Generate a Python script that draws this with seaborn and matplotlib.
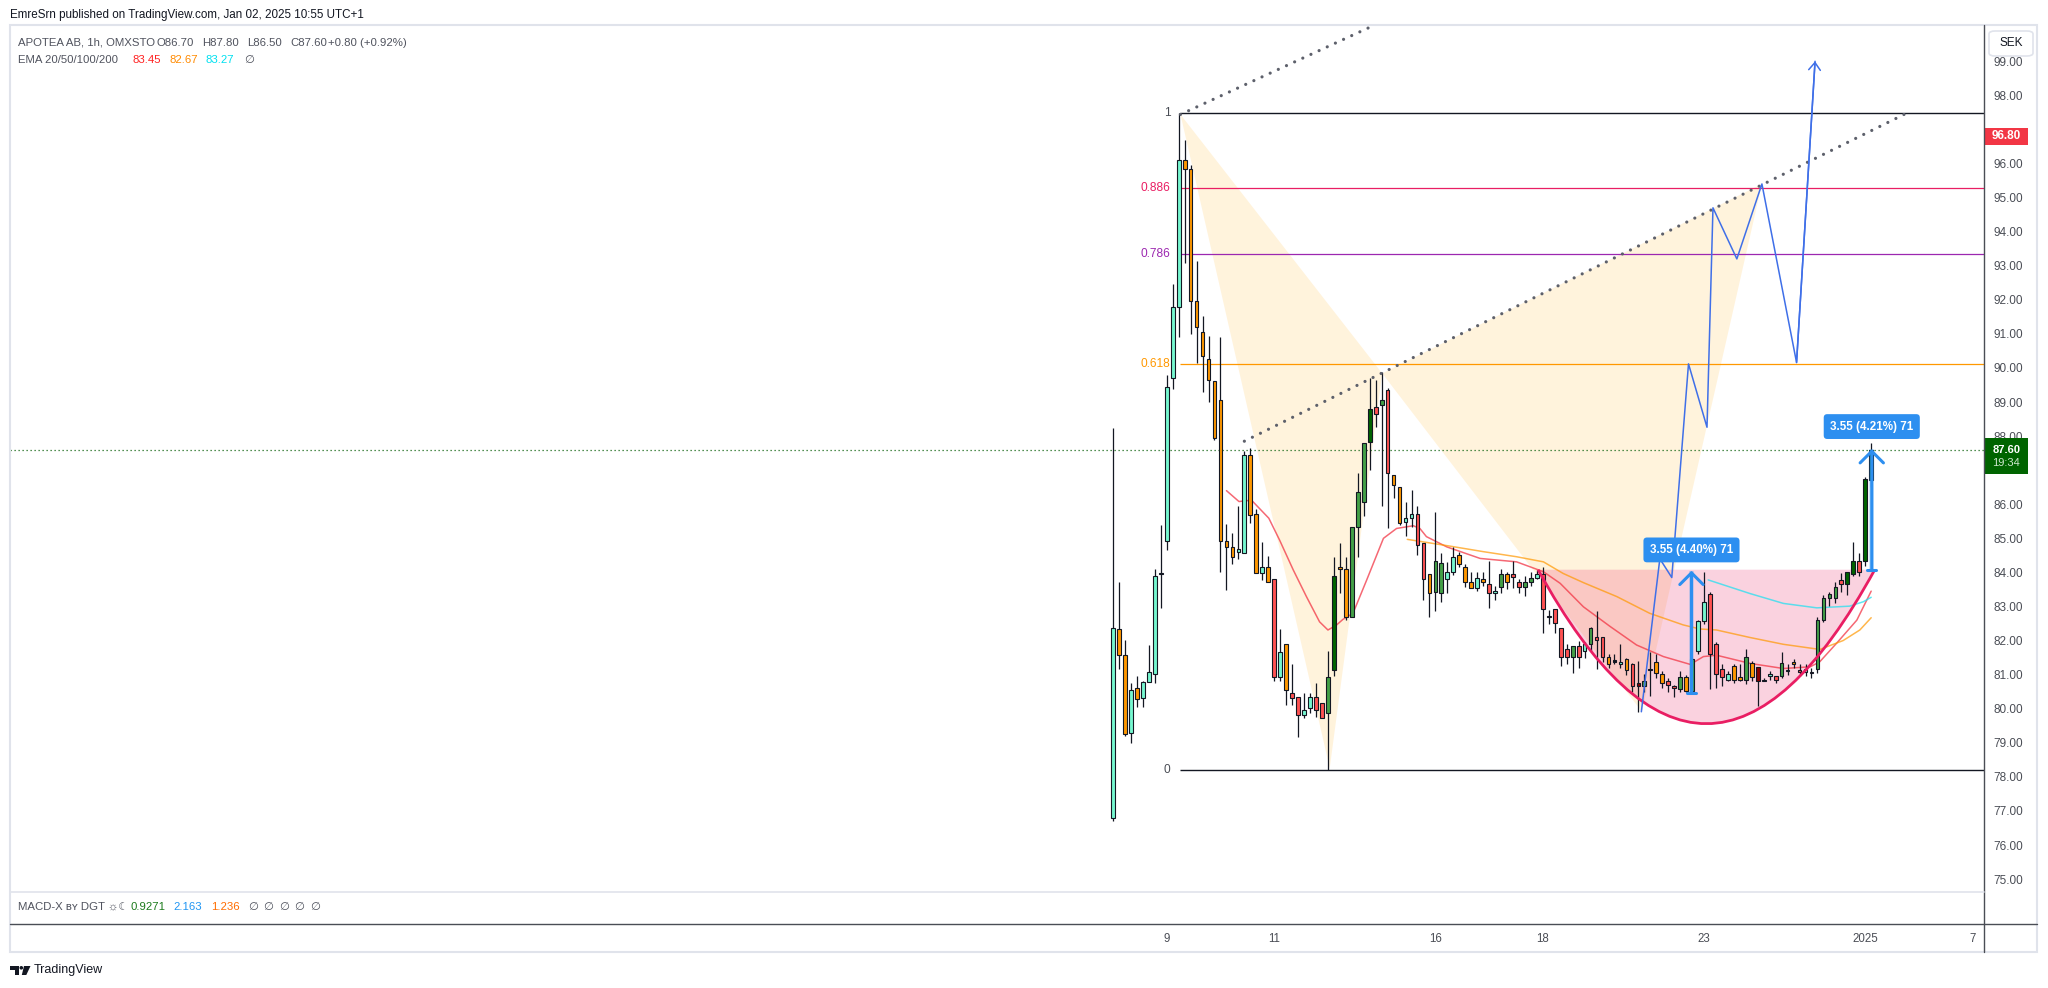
import matplotlib
matplotlib.use('Agg')
import matplotlib.pyplot as plt
import matplotlib.transforms as mtrans
from matplotlib.patches import Rectangle, PathPatch, FancyBboxPatch, Polygon, Ellipse
from matplotlib.path import Path
from matplotlib.lines import Line2D
import seaborn as sns

sns.set_theme(style='white')
plt.rcParams['font.family'] = ['Liberation Sans', 'DejaVu Sans']

# ---- daten (1h-Kerzen APOTEA, Index = Bar-Nummer ab 6. Dez 09:00) ----
opens = [
    76.80, 82.33, 81.57, 79.30, 80.60, 80.30, 80.77, 81.01, 83.94, 84.93,
    89.70, 91.78, 96.11, 95.83, 91.97, 91.05, 90.25, 89.62, 89.06, 84.93,
    84.74, 84.60, 84.56, 87.45, 85.70, 83.97, 84.15, 83.80, 80.94, 81.89,
    80.45, 80.33, 79.83, 80.01, 80.33, 80.16, 79.88, 81.15, 84.15, 84.09,
    82.68, 85.34, 86.06, 87.84, 88.84, 88.90, 89.35, 86.85, 86.50, 85.49,
    85.59, 85.70, 84.85, 83.94, 83.43, 83.39, 83.80, 84.02, 84.51, 84.15,
    83.73, 83.53, 83.80, 83.65, 83.39, 83.58, 83.94, 83.95, 83.73, 83.58,
    83.73, 83.85, 83.95, 82.72, 82.94, 82.36, 81.75, 81.51, 81.85, 81.70,
    81.89, 82.09, 82.09, 81.53, 81.42, 81.31, 81.46, 81.30, 80.74, 80.66,
    81.15, 81.36, 81.02, 80.81, 80.67, 80.59, 80.94, 80.53, 81.70, 82.58,
    83.36, 81.89, 81.18, 80.84, 81.24, 80.94, 80.84, 81.35, 81.23, 80.82,
    80.96, 80.96, 80.96, 81.10, 81.38, 81.15, 81.09, 81.09, 81.18, 82.60,
    83.24, 83.24, 83.78, 83.65, 83.95, 84.34, 84.34, 86.70]
highs = [
    88.25, 83.73, 82.03, 80.74, 80.96, 80.80, 81.87, 84.09, 85.39, 89.79,
    92.47, 97.48, 96.69, 95.96, 93.14, 91.53, 90.94, 89.62, 90.90, 85.42,
    85.15, 85.95, 87.55, 87.64, 85.85, 84.90, 84.48, 83.80, 82.35, 81.89,
    81.30, 80.33, 80.45, 80.45, 80.74, 80.16, 81.70, 84.46, 84.85, 84.46,
    85.34, 86.91, 87.79, 89.70, 89.65, 89.89, 89.40, 86.85, 86.50, 86.06,
    86.42, 85.95, 84.85, 83.94, 85.78, 84.56, 84.31, 84.76, 84.60, 84.25,
    84.00, 84.00, 84.00, 84.33, 83.60, 84.10, 84.00, 84.33, 83.80, 83.90,
    84.00, 84.07, 84.15, 82.90, 82.94, 82.36, 81.90, 81.85, 82.00, 81.95,
    82.40, 82.88, 82.09, 81.60, 81.60, 81.89, 81.50, 81.35, 81.40, 81.02,
    81.67, 81.60, 81.10, 80.90, 80.70, 81.10, 81.00, 81.50, 82.60, 84.00,
    83.43, 81.95, 81.30, 81.10, 81.30, 81.30, 81.74, 81.40, 81.23, 80.90,
    81.10, 80.96, 81.67, 81.30, 81.45, 81.30, 81.30, 81.20, 82.70, 83.33,
    83.43, 83.73, 83.97, 84.02, 84.90, 84.56, 86.80, 87.80]
lows = [
    76.70, 81.18, 79.20, 78.98, 80.06, 80.06, 80.77, 80.76, 82.97, 84.66,
    89.38, 90.92, 93.07, 91.00, 90.14, 89.29, 89.01, 87.90, 84.02, 83.48,
    84.26, 84.38, 84.56, 85.46, 83.97, 83.78, 83.73, 80.81, 80.81, 80.11,
    80.10, 79.18, 79.72, 79.86, 79.77, 79.74, 78.20, 80.96, 83.39, 82.60,
    82.68, 84.46, 85.67, 87.00, 88.28, 85.95, 85.29, 86.17, 85.39, 85.07,
    85.34, 84.51, 83.19, 82.68, 82.88, 83.14, 83.39, 83.92, 84.17, 83.58,
    83.53, 83.45, 83.60, 82.97, 83.20, 83.40, 83.50, 83.53, 83.40, 83.30,
    83.60, 83.80, 82.21, 82.50, 82.21, 81.26, 81.30, 81.04, 81.20, 81.50,
    81.70, 81.18, 81.38, 81.20, 81.30, 81.20, 81.00, 80.50, 79.91, 80.50,
    80.37, 80.90, 80.60, 80.50, 80.35, 80.50, 80.50, 80.45, 81.60, 82.50,
    80.57, 80.60, 80.66, 80.80, 80.76, 80.80, 80.72, 80.80, 80.08, 80.80,
    80.84, 80.75, 80.90, 81.00, 81.20, 80.95, 80.95, 80.90, 81.06, 82.55,
    83.00, 83.10, 83.43, 83.34, 83.90, 83.90, 84.20, 86.50]
closes = [
    82.36, 81.57, 79.26, 80.55, 80.28, 80.77, 81.07, 83.89, 83.94, 89.43,
    91.78, 96.11, 95.83, 91.97, 91.19, 90.35, 89.65, 87.94, 84.93, 84.74,
    84.44, 84.70, 87.45, 85.68, 83.97, 84.15, 83.73, 80.94, 81.65, 80.55,
    80.32, 79.81, 79.96, 80.33, 79.96, 79.74, 80.94, 83.89, 84.09, 82.68,
    85.34, 86.35, 87.79, 88.79, 88.64, 89.05, 86.91, 86.56, 85.44, 85.59,
    85.71, 84.80, 83.80, 83.39, 84.34, 84.28, 84.02, 84.44, 84.25, 83.73,
    83.53, 83.85, 83.73, 83.39, 83.45, 83.94, 83.73, 83.87, 83.58, 83.73,
    83.85, 83.95, 82.94, 82.68, 82.52, 81.51, 81.51, 81.85, 81.51, 81.89,
    82.36, 82.03, 81.51, 81.31, 81.38, 81.36, 81.15, 80.67, 80.66, 80.82,
    81.14, 81.04, 80.74, 80.69, 80.61, 80.94, 80.53, 81.45, 82.58, 83.14,
    81.60, 81.01, 80.94, 81.01, 80.84, 80.84, 81.51, 80.94, 80.81, 80.82,
    81.02, 80.84, 81.35, 81.15, 81.30, 81.09, 81.18, 81.04, 82.60, 83.24,
    83.36, 83.58, 83.65, 84.00, 84.34, 84.00, 86.73, 87.60]
# Kerzenfarbe (MACD-X): A aqua, G gruen, D dunkelgruen, O orange, R rot, K dunkelrot, N doji
candle_kind = ('AOOAOAAANA' 'AAOOOOOOOO' 'OAAOOAORAO' 'RRAARRGDOO' 'GGGDRGROOA'
               'ARROGGAAOO' 'OAORAGORRG' 'GARRRRRGRA' 'GRRONAORKG' 'NOORRGOGAA'
               'RRRAOOGOKN' 'ARGAORARGG' 'GGRDDRDD')

ema20_x = [19, 21.1, 23.2, 26.1, 27.9, 30.2, 32.4, 34.6, 36, 37.4, 38.5, 40.2, 42.5, 45.3,
           47.5, 50.3, 51.4, 52.5, 55.9, 61.5, 67.6, 72.1, 74.9, 78.8, 83.3, 87.7, 92.2,
           96.7, 98.9, 101.1, 106.7, 112.3, 116.8, 118.4, 121.2, 124.6, 127]
ema20_y = [86.40, 86.08, 86.12, 85.59, 84.95, 84.07, 83.29, 82.55, 82.31, 82.45, 82.62, 82.80,
           83.78, 85.00, 85.29, 85.37, 85.29, 85.05, 84.75, 84.41, 84.31, 84.02, 83.68, 82.99,
           82.41, 81.87, 81.53, 81.30, 81.53, 81.57, 81.33, 81.18, 81.23, 81.38, 81.92, 82.60,
           83.45]
ema50_x = [49.3, 56.5, 62, 67.6, 72.1, 75.4, 78.8, 84.4, 89.9, 95.5, 98.3, 101.1, 106.7,
           112.3, 118.4, 122.3, 125.1, 127]
ema50_y = [84.97, 84.77, 84.61, 84.46, 84.31, 83.97, 83.70, 83.29, 82.80, 82.46, 82.34, 82.31,
           82.09, 81.89, 81.74, 82.00, 82.31, 82.67]
ema100_x = [99.7, 106.7, 112.3, 117.9, 123.4, 125.7, 127]
ema100_y = [83.78, 83.38, 83.09, 82.96, 83.01, 83.14, 83.27]

fib_levels = [0, 0.618, 0.786, 0.886, 1]
fib_labels = ['0', '0.618', '0.786', '0.886', '1']
fib_colors = ['#131722', '#ff9800', '#9c27b0', '#e91e63', '#131722']
fib_start, fib_low, fib_high = 11.3, 78.20, 97.48

# XABCD Muster
pat_x = [11.3, 36.3, 45.1, 88.6, 108.7]
pat_y = [97.44, 78.25, 89.84, 79.91, 95.40]

# Cup (Bogen) links / Boden / rechts
cup_x = [71.2, 99.4, 127.6]
cup_y = [84.08, 79.56, 84.08]

# Projektion (blauer Pfad)
zz_x = [88.5, 91.6, 93.6, 96.4, 99.5, 100.5, 104.5, 108.7, 114.5, 117.6]
zz_y = [79.91, 84.40, 83.85, 90.12, 88.26, 94.70, 93.20, 95.40, 90.16, 99.00]

trend1 = ([11.3, 47.0], [97.44, 100.32])
trend2 = ([22.0, 133.2], [87.85, 97.50])

range_x = [96.9, 127.1]
range_lo = [80.47, 84.07]
range_hi = [84.05, 87.62]
range_label_y = [84.66, 88.28]
range_text = ['3.55 (4.40%) 71', '3.55 (4.21%) 71']

last_price = 87.60
alert_price = 96.80
price_ticks = list(range(75, 100))
time_ticks = [9, 27, 54, 72, 99, 126, 144]
time_labels = ['9', '11', '16', '18', '23', '2025', '7']

W, H = 2048, 988
fig = plt.figure(figsize=(W / 100, H / 100), dpi=100)
fig.patch.set_facecolor('white')


def rect(x0, y0, x1, y1):
    return [x0 / W, 1 - y1 / H, (x1 - x0) / W, (y1 - y0) / H]


PANE_L, PANE_R, PANE_T, PANE_B, MACD_B, FRAME_B, FRAME_R = 10.4, 1984, 25.5, 891.7, 924.3, 952, 2037
ax = fig.add_axes(rect(PANE_L, PANE_T, PANE_R, PANE_B))
axm = fig.add_axes(rect(PANE_L, PANE_B, PANE_R, MACD_B), sharex=ax)
ax.set_xlim(-184.7, 145.9)
ax.set_ylim(74.63, 100.05)
for a in (ax, axm):
    a.set_facecolor('white')
    for s in a.spines.values():
        s.set_visible(False)
    a.grid(False)

# Preisskala rechts (87 und 97 liegen unter den Preis-Labels)
ax.yaxis.tick_right()
ax.set_yticks(price_ticks)
ax.set_yticklabels(['' if p in (87, 97) else f'{p:.2f}' for p in price_ticks])
ax.tick_params(axis='y', length=0, pad=6.5, labelsize=8.5, labelcolor='#4a4d55')
ax.tick_params(axis='x', bottom=False, labelbottom=False)
axm.set_yticks([])
axm.set_xticks(time_ticks)
axm.set_xticklabels(time_labels)
axm.tick_params(axis='x', length=0, pad=6, labelsize=8.3, labelcolor='#4a4d55')

# Muster-Dreiecke XAB und BCD
ax.fill([pat_x[0], pat_x[1], pat_x[2]], [pat_y[0], pat_y[1], pat_y[2]],
        color='#ffbe40', alpha=0.18, lw=0, zorder=1)
ax.fill([pat_x[2], pat_x[3], pat_x[4]], [pat_y[2], pat_y[3], pat_y[4]],
        color='#ffbe40', alpha=0.18, lw=0, zorder=1)

# Cup
ctrl = (cup_x[1], 2 * cup_y[1] - (cup_y[0] + cup_y[2]) / 2)
cup_path = Path([(cup_x[0], cup_y[0]), ctrl, (cup_x[2], cup_y[2]), (cup_x[0], cup_y[0])],
                [Path.MOVETO, Path.CURVE3, Path.CURVE3, Path.LINETO])
ax.add_patch(PathPatch(cup_path, fc='#e91e63', alpha=0.2, lw=0, zorder=1.1))
arc_path = Path([(cup_x[0], cup_y[0]), ctrl, (cup_x[2], cup_y[2])],
                [Path.MOVETO, Path.CURVE3, Path.CURVE3])
ax.add_patch(PathPatch(arc_path, fc='none', ec='#e91e63', lw=2.0, zorder=3.5))

# Fibonacci
for lev, lab, col in zip(fib_levels, fib_labels, fib_colors):
    price = fib_low + lev * (fib_high - fib_low)
    ax.hlines(price, fib_start, 145.9, color=col, lw=1.0 if lev in (0, 1) else 0.9, zorder=1.5)
    ax.text(9.6, price, lab, ha='right', va='center', fontsize=8.6,
            color='#4a4d55' if lev in (0, 1) else col, zorder=6)

ax.axhline(last_price, color='#1b6b1b', lw=0.9, ls=(0, (1, 2.2)), zorder=1.6)

# EMAs
sns.lineplot(x=ema20_x, y=ema20_y, ax=ax, color='#f23645', lw=1.1, alpha=0.75, sort=False, zorder=2)
sns.lineplot(x=ema50_x, y=ema50_y, ax=ax, color='#ff9800', lw=1.1, alpha=0.7, sort=False, zorder=2)
sns.lineplot(x=ema100_x, y=ema100_y, ax=ax, color='#26e0f0', lw=1.1, alpha=0.75, sort=False, zorder=2)

# Kerzen
kind_color = {'A': '#76f7cf', 'G': '#43a047', 'D': '#006400', 'O': '#ff9800',
              'R': '#ff5252', 'K': '#8b0000', 'N': '#131722'}
idx = list(range(len(opens)))
ax.vlines(idx, lows, highs, color='#131722', lw=0.9, zorder=3)
bottoms = [min(o, c) for o, c in zip(opens, closes)]
heights = [max(abs(c - o), 0.03) for o, c in zip(opens, closes)]
ax.bar(idx, heights, bottom=bottoms, width=0.62, color=[kind_color[k] for k in candle_kind],
       edgecolor='#131722', linewidth=0.8, zorder=3.1)

# gepunktete Trendlinien
for tx, ty in (trend1, trend2):
    ax.plot(tx, ty, color='#5d606b', lw=2.3, ls=(0, (0.01, 2.8)), dash_capstyle='round', zorder=4)

# Projektionspfad
sns.lineplot(x=zz_x, y=zz_y, ax=ax, color='#3f6fe8', lw=1.1, sort=False, zorder=4)
ax.annotate('', xy=(zz_x[-1], zz_y[-1]), xytext=(zz_x[-2], zz_y[-2]),
            arrowprops=dict(arrowstyle='->,head_length=0.45,head_width=0.35', lw=1.1,
                            color='#3f6fe8', shrinkA=0, shrinkB=0), zorder=4)

# Preisspannen
blue = '#2d8ff0'
for x, lo, hi, ly, txt in zip(range_x, range_lo, range_hi, range_label_y, range_text):
    ax.bar([x], [hi - lo], bottom=[lo], width=0.9, color='#2196f3', alpha=0.22, lw=0, zorder=4.8)
    ax.annotate('', xy=(x, hi), xytext=(x, lo),
                arrowprops=dict(arrowstyle='->,head_length=0.7,head_width=0.7', lw=2.2,
                                color=blue, shrinkA=0, shrinkB=0), zorder=5)
    ax.plot([x - 0.75, x + 0.75], [lo, lo], color=blue, lw=2.2, zorder=5)
    ax.text(x, ly, txt, ha='center', va='center', fontsize=8.4, fontweight='bold', color='white',
            bbox=dict(boxstyle='round,pad=0.55,rounding_size=0.3', fc=blue, ec='none'), zorder=6)

# Preis-Labels auf der Skala
blend = mtrans.blended_transform_factory(fig.transFigure, ax.transData)
ax.add_patch(Rectangle((1985 / W, alert_price - 0.245), 42.7 / W, 0.49, transform=blend,
                       fc='#f23645', ec='none', clip_on=False, zorder=7))
ax.text(2006.3 / W, alert_price, f'{alert_price:.2f}', transform=blend, ha='center', va='center',
        fontsize=8.5, fontweight='bold', color='white', clip_on=False, zorder=8)
ax.add_patch(Rectangle((1985 / W, last_price - 0.72), 42.7 / W, 1.06, transform=blend,
                       fc='#006400', ec='none', clip_on=False, zorder=7))
ax.text(2006.3 / W, last_price, f'{last_price:.2f}', transform=blend, ha='center', va='center',
        fontsize=8.0, fontweight='bold', color='white', clip_on=False, zorder=8)
ax.text(2006.3 / W, last_price - 0.4, '19:34', transform=blend, ha='center', va='center',
        fontsize=8.0, color='#cfe8cf', clip_on=False, zorder=8)

# Rahmen und Trennlinien
fig.add_artist(Rectangle((PANE_L / W, 1 - FRAME_B / H), (FRAME_R - PANE_L) / W, (FRAME_B - PANE_T) / H,
                         transform=fig.transFigure, fc='none', ec='#e0e3eb', lw=1.5))
fig.add_artist(Line2D([PANE_R / W, PANE_R / W], [1 - PANE_T / H, 1 - FRAME_B / H],
                      transform=fig.transFigure, color='#4a4d55', lw=1.0))
fig.add_artist(Line2D([PANE_L / W, FRAME_R / W], [1 - MACD_B / H, 1 - MACD_B / H],
                      transform=fig.transFigure, color='#4a4d55', lw=1.0))
fig.add_artist(Line2D([PANE_L / W, PANE_R / W], [1 - PANE_B / H, 1 - PANE_B / H],
                      transform=fig.transFigure, color='#e0e3eb', lw=1.2))
fig.add_artist(FancyBboxPatch((1989 / W, 1 - 56 / H), 44 / W, 25 / H, transform=fig.transFigure,
                              boxstyle='round,pad=0,rounding_size=0.003', fc='white', ec='#e0e3eb', lw=1.2))
fig.text(2011 / W, 1 - 43.5 / H, 'SEK', ha='center', va='center', fontsize=8.5, color='#131722')

# Kopfzeilen
fig.text(10 / W, 1 - 15 / H, 'EmreSrn published on TradingView.com, Jan 02, 2025 10:55 UTC+1',
         ha='left', va='center', fontsize=8.4, color='#131722')
gray = '#50535e'
legend1 = [(18.3, 'APOTEA AB, 1h, OMXSTO', gray), (156.7, 'O86.70', gray), (202, 'H87.80', gray),
           (247, 'L86.50', gray), (290, 'C87.60', gray), (327.7, '+0.80 (+0.92%)', gray)]
legend2 = [(18.3, 'EMA 20/50/100/200', gray), (132.7, '83.45', '#ff2222'), (169.3, '82.67', '#ff8a00'),
           (206, '83.27', '#00e0f0'), (244, '∅', gray)]
macd = [(17.9, 'MACD-X ʙʏ DGT ☼☾', gray), (130.4, '0.9271', '#1b7a1b'), (173, '2.163', '#2196f3'),
        (210.7, '1.236', '#ff6d00'), (247.8, '∅', gray), (263.4, '∅', gray), (279, '∅', gray),
        (294.6, '∅', gray), (310.3, '∅', gray)]
for row, yy in ((legend1, 42.7), (legend2, 60), (macd, 906.7)):
    for xx, s, c in row:
        fig.text(xx / W, 1 - yy / H, s, ha='left', va='center', fontsize=8.2, color=c)

# TradingView Logo
fig.add_artist(Polygon([(10 / W, 1 - 966 / H), (18.5 / W, 1 - 966 / H), (18.5 / W, 1 - 975 / H),
                        (14.5 / W, 1 - 975 / H), (14.5 / W, 1 - 969.5 / H), (10 / W, 1 - 969.5 / H)],
                       closed=True, transform=fig.transFigure, fc='#131722', ec='none'))
fig.add_artist(Ellipse((21.3 / W, 1 - 967.8 / H), 3.6 / W, 3.6 / H, transform=fig.transFigure,
                       fc='#131722', ec='none'))
fig.add_artist(Polygon([(24 / W, 1 - 966 / H), (30.5 / W, 1 - 966 / H), (26.3 / W, 1 - 975 / H),
                        (21.8 / W, 1 - 975 / H)], closed=True, transform=fig.transFigure,
                       fc='#131722', ec='none'))
fig.text(33.5 / W, 1 - 970 / H, 'TradingView', ha='left', va='center', fontsize=9, color='#131722')

fig.savefig('out.png', dpi=100, facecolor='white')
